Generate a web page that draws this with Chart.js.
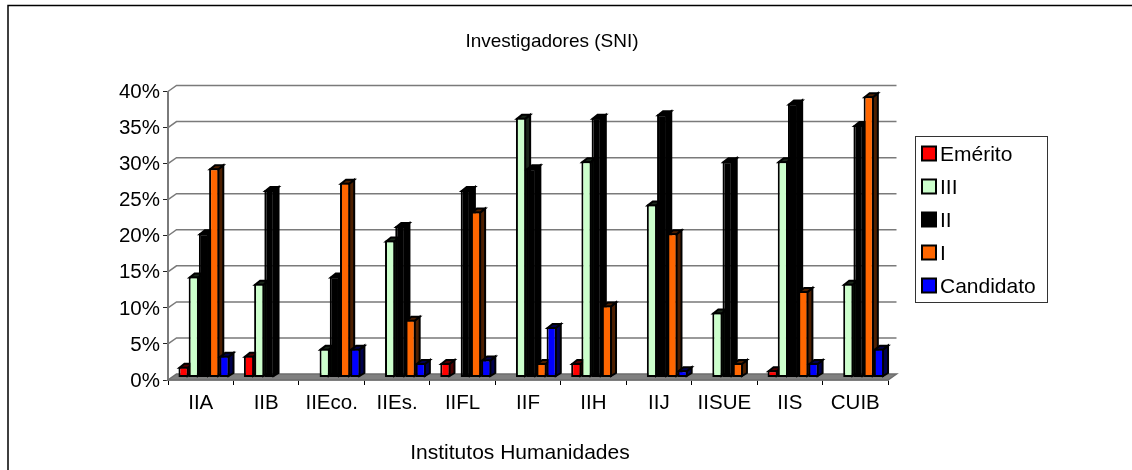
<!DOCTYPE html>
<html>
<head>
<meta charset="utf-8">
<style>
  html, body { margin: 0; padding: 0; background: #fff; }
  #wrap { width: 1132px; height: 470px; position: relative; overflow: hidden; }
</style>
<script src="https://cdn.jsdelivr.net/npm/chart.js@4"></script>
</head>
<body>
<div id="wrap"><canvas id="chart" width="1132" height="470"></canvas></div>
<script>
const institutes = ["IIA", "IIB", "IIEco.", "IIEs.", "IIFL", "IIF", "IIH", "IIJ", "IISUE", "IIS", "CUIB"];
const emerito = [1.5, 3, null, null, 2, null, 2, null, null, 1, null];
const nivel3 = [14, 13, 4, 19, null, 36, 30, 24, 9, 30, 13];
const nivel2 = [20, 26, 14, 21, 26, 29, 36, 36.5, 30, 38, 35];
const nivel1 = [29, null, 27, 8, 23, 2, 10, 20, 2, 12, 39];
const candidato = [3, null, 4, 2, 2.5, 7, null, 1, null, 2, 4];
const seriesNames = ["Emérito", "III", "II", "I", "Candidato"];
const seriesValues = [emerito, nivel3, nivel2, nivel1, candidato];
const seriesColors = ["#ff0000", "#ccffcc", "#000000", "#ff6600", "#0000ff"];
const sideColors = ["#4d0000", "#1a261a", "#000000", "#4d1f00", "#00004d"];

const FONT = '"Liberation Sans", Arial, sans-serif';
const WALL_DX = 8.5;
const WALL_DY = 6;
const BAR_DX = 5;
const BAR_DY = 4;

function polygon(ctx, points, fill, stroke, lineWidth) {
  ctx.beginPath();
  points.forEach(([x, y], i) => (i === 0 ? ctx.moveTo(x, y) : ctx.lineTo(x, y)));
  ctx.closePath();
  if (fill) {
    ctx.fillStyle = fill;
    ctx.fill();
  }
  if (stroke) {
    ctx.strokeStyle = stroke;
    ctx.lineWidth = lineWidth;
    ctx.stroke();
  }
}

const wallPlugin = {
  id: "wall",
  // frame, back wall grid and floor, then the bars left to right so each one overlaps the last
  beforeDatasetsDraw(chart) {
    const { ctx, chartArea, scales } = chart;
    const { left, right, bottom } = chartArea;
    ctx.save();
    ctx.strokeStyle = "#000";
    ctx.lineWidth = 1.5;
    ctx.strokeRect(8, 5.5, 1200, 480);
    polygon(ctx, [[left, bottom], [right, bottom], [right + WALL_DX, bottom - WALL_DY], [left + WALL_DX, bottom - WALL_DY]], "#808080", "#6e6e6e", 1.5);
    ctx.strokeStyle = "#7a7a7a";
    ctx.lineWidth = 1.5;
    scales.y.ticks.forEach((tick) => {
      if (tick.value === 0) return;
      const y = scales.y.getPixelForValue(tick.value);
      ctx.beginPath();
      ctx.moveTo(left, y);
      ctx.lineTo(left + WALL_DX, y - WALL_DY);
      ctx.lineTo(right + WALL_DX, y - WALL_DY);
      ctx.stroke();
    });
    ctx.translate(WALL_DX / 2 - 1, -WALL_DY / 2 + 0.5);
    chart.data.datasets.forEach((dataset, index) => {
      const meta = chart.getDatasetMeta(index);
      meta.data.forEach((bar, i) => {
        if (dataset.data[i] == null) return;
        const l = bar.x - bar.width / 2 + 1;
        const r = bar.x + bar.width / 2 - 1;
        const side = sideColors[index];
        polygon(ctx, [[r, bar.y + 1], [r + BAR_DX, bar.y + 1 - BAR_DY], [r + BAR_DX, bar.base - BAR_DY], [r, bar.base - 1]], side, "#000", 2);
        polygon(ctx, [[l, bar.y + 1], [l + BAR_DX, bar.y + 1 - BAR_DY], [r + BAR_DX, bar.y + 1 - BAR_DY], [r, bar.y + 1]], side, "#000", 2);
      });
      meta.controller.draw();
    });
    ctx.restore();
    return false;
  },
  afterDraw(chart) {
    const { ctx } = chart;
    ctx.save();
    ctx.fillStyle = "#000";
    ctx.textBaseline = "alphabetic";
    ctx.font = "19px " + FONT;
    ctx.textAlign = "center";
    ctx.fillText("Investigadores (SNI)", 552, 47);
    ctx.font = "21px " + FONT;
    ctx.fillText("Institutos Humanidades", 520, 459);

    // legend box
    ctx.strokeStyle = "#333";
    ctx.lineWidth = 1;
    ctx.strokeRect(915.5, 136.5, 132, 166);
    ctx.textAlign = "left";
    seriesNames.forEach((name, i) => {
      const y = 153.5 + i * 33;
      ctx.fillStyle = seriesColors[i];
      ctx.strokeStyle = "#000";
      ctx.lineWidth = 2;
      ctx.fillRect(922, y - 7, 14, 14);
      ctx.strokeRect(922, y - 7, 14, 14);
      ctx.fillStyle = "#000";
      ctx.fillText(name, 940, y + 7.5);
    });
    ctx.restore();
  },
};

new Chart(document.getElementById("chart"), {
  type: "bar",
  data: {
    labels: institutes,
    datasets: seriesNames.map((name, i) => ({
      label: name,
      data: seriesValues[i],
      backgroundColor: seriesColors[i],
      borderColor: "#000",
      borderWidth: 2,
      borderSkipped: false,
    })),
  },
  plugins: [wallPlugin],
  options: {
    responsive: false,
    animation: false,
    categoryPercentage: 0.78,
    barPercentage: 1,
    layout: { padding: { top: 91.5, right: 244, bottom: 30, left: 0 } },
    plugins: { legend: { display: false }, title: { display: false }, tooltip: { enabled: false } },
    scales: {
      x: {
        grid: { offset: true, drawOnChartArea: false, drawTicks: true, tickLength: 5, color: "#000" },
        border: { color: "#6e6e6e", width: 1.5 },
        ticks: { color: "#000", font: { family: FONT, size: 20.5 }, padding: 6, maxRotation: 0, autoSkip: false },
        afterFit(scale) { scale.height = 60; },
      },
      y: {
        min: 0,
        max: 40,
        grid: { drawOnChartArea: false, tickLength: 5, color: "#222" },
        border: { color: "#7a7a7a", width: 2 },
        ticks: {
          stepSize: 5,
          color: "#000",
          font: { family: FONT, size: 20.5 },
          padding: 3,
          labelOffset: 1,
          callback: (v) => v + "%",
        },
        afterFit(scale) { scale.width = 168; },
      },
    },
  },
});
</script>
</body>
</html>
